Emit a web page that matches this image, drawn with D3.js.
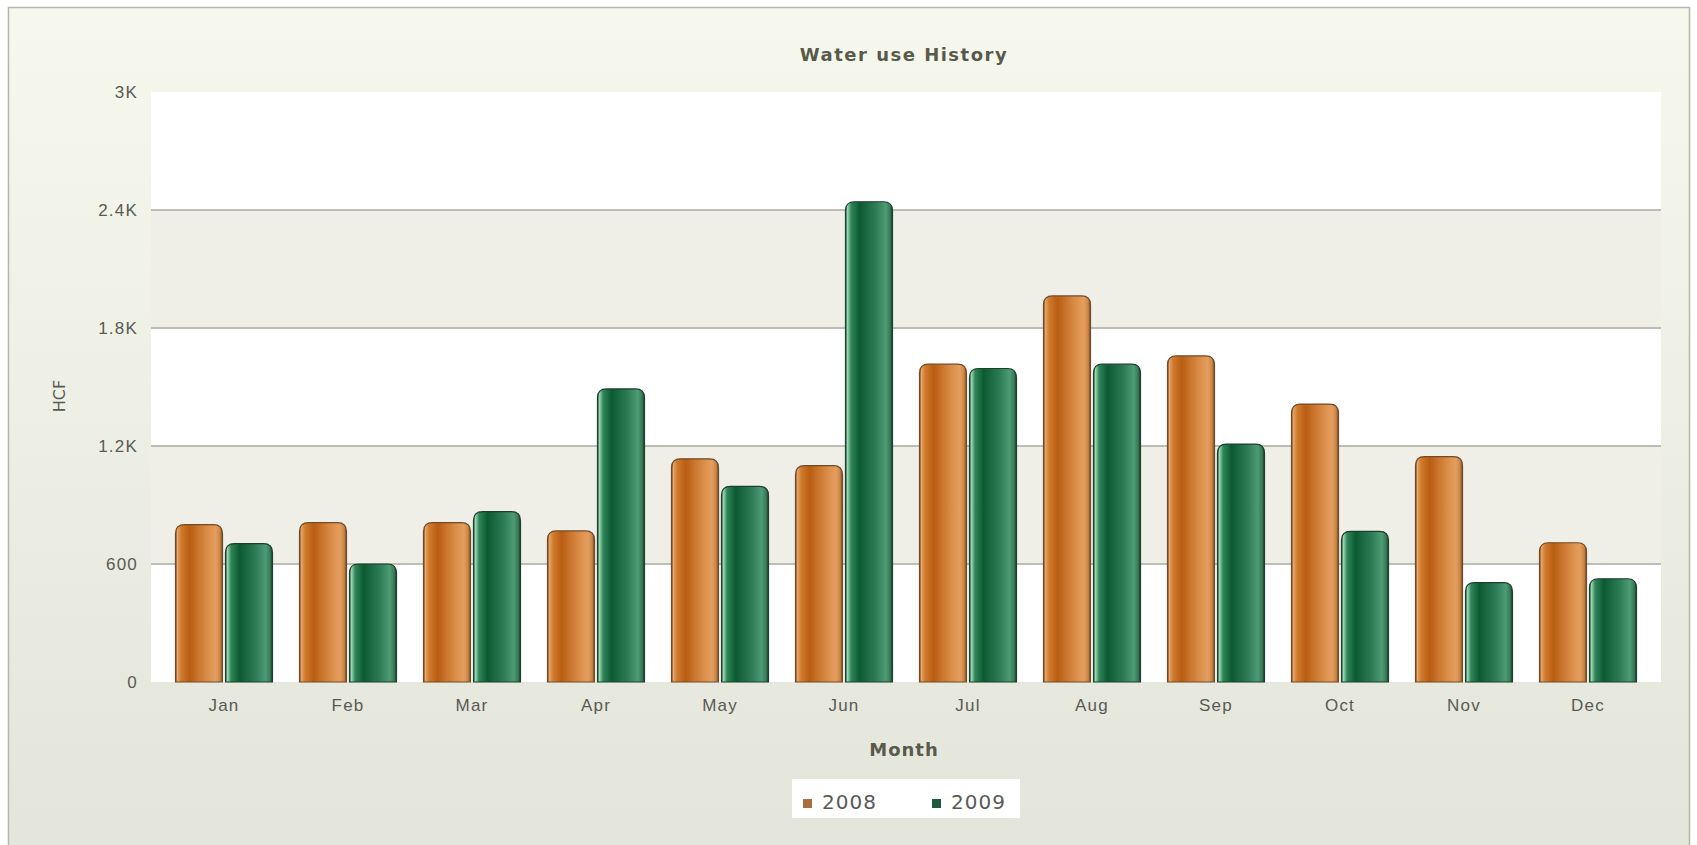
<!DOCTYPE html>
<html>
<head>
<meta charset="utf-8">
<script src="https://cdnjs.cloudflare.com/ajax/libs/d3/7.8.5/d3.min.js"></script>
<style>
  body { margin: 0; background: #ffffff; }
  svg { display: block; font-family: "DejaVu Sans", Verdana, sans-serif; }
</style>
</head>
<body>
<svg id="chart"></svg>
<script>
// chart data
var months = ['Jan', 'Feb', 'Mar', 'Apr', 'May', 'Jun', 'Jul', 'Aug', 'Sep', 'Oct', 'Nov', 'Dec'];
var seriesNames = ['2008', '2009'];
var use2008 = [800, 810, 810, 768, 1135, 1100, 1616, 1963, 1658, 1413, 1146, 708];
var use2009 = [704, 600, 866, 1490, 995, 2442, 1594, 1616, 1210, 766, 505, 525];
var yTicks = [0, 600, 1200, 1800, 2400, 3000];
var yTickLabels = ['0', '600', '1.2K', '1.8K', '2.4K', '3K'];

var W = 1697, H = 845;
// plot area
var plot = {left: 151, right: 1661, top: 92, bottom: 682};

var svg = d3.select('#chart')
    .attr('width', W)
    .attr('height', H);

var defs = svg.append('defs');

// outer background gradient
var bg = defs.append('linearGradient')
    .attr('id', 'bgGrad')
    .attr('x1', 0).attr('y1', 0).attr('x2', 0).attr('y2', 1);
bg.append('stop').attr('offset', 0).attr('stop-color', '#f6f8ee');
bg.append('stop').attr('offset', 1).attr('stop-color', '#e4e5da');

// bar gradients (cylinder look)
var barStops = {
  '2008': [[0, '#7a4a20'], [0.04, '#e6a46a'], [0.12, '#d07a2c'], [0.3, '#b95d12'], [0.65, '#d88a44'], [0.86, '#e59e5e'], [0.95, '#c98447'], [1, '#6e4a28']],
  '2009': [[0, '#244a34'], [0.04, '#9ad8b4'], [0.12, '#2e8558'], [0.3, '#0c5a32'], [0.65, '#2f7d57'], [0.86, '#4d9c76'], [0.95, '#357a58'], [1, '#1c3f2b']]
};
seriesNames.forEach(function(s){
  var g = defs.append('linearGradient')
      .attr('id', 'bar' + s)
      .attr('x1', 0).attr('y1', 0).attr('x2', 1).attr('y2', 0);
  barStops[s].forEach(function(st){
    g.append('stop').attr('offset', st[0]).attr('stop-color', st[1]);
  });
});

svg.append('rect')
    .attr('x', 8.5).attr('y', 7.5)
    .attr('width', W - 16).attr('height', H)
    .attr('fill', 'url(#bgGrad)')
    .attr('stroke', '#b4b5ab')
    .attr('stroke-width', 1.5);

// scales
var yScale = d3.scaleLinear()
    .domain([0, 3000])
    .range([plot.bottom, plot.top]);

// month bands sit a bit right of the plot's left edge
var xScale = d3.scaleBand()
    .domain(months)
    .range([162, 1650])
    .paddingInner(0.218)
    .paddingOuter(0.109);

var xSub = d3.scaleBand()
    .domain(seriesNames)
    .range([0, xScale.bandwidth()])
    .paddingInner(0.06);

var colors = d3.scaleOrdinal()
    .domain(seriesNames)
    .range(['#a86e3c', '#1d5a3b']);

// alternating bands between gridlines
var bands = d3.pairs(yTicks);
svg.append('g')
  .selectAll('rect')
  .data(bands)
  .enter()
  .append('rect')
    .attr('x', plot.left)
    .attr('y', d => yScale(d[1]))
    .attr('width', plot.right - plot.left)
    .attr('height', d => yScale(d[0]) - yScale(d[1]))
    .attr('fill', (d, i) => i % 2 == 1 ? '#efefe8' : '#ffffff');

// gridlines
svg.append('g')
  .selectAll('line')
  .data(yTicks.filter(d => d > 0 && d < 3000))
  .enter()
  .append('line')
    .attr('x1', plot.left)
    .attr('x2', plot.right)
    .attr('y1', d => yScale(d))
    .attr('y2', d => yScale(d))
    .attr('stroke', '#bdbdb5')
    .attr('stroke-width', 2);

// bars with rounded tops
var rows = months.map(function(m, i){
  return {month: m, values: [{key: '2008', v: use2008[i]}, {key: '2009', v: use2009[i]}]};
});

function topRounded(x, y, w, h, r){
  return 'M' + x + ',' + (y + h) +
    'V' + (y + r) +
    'Q' + x + ',' + y + ' ' + (x + r) + ',' + y +
    'H' + (x + w - r) +
    'Q' + (x + w) + ',' + y + ' ' + (x + w) + ',' + (y + r) +
    'V' + (y + h) + 'Z';
}

svg.append('g')
  .selectAll('g')
  .data(rows)
  .enter()
  .append('g')
    .attr('transform', d => 'translate(' + xScale(d.month) + ',0)')
  .selectAll('path')
  .data(d => d.values)
  .enter()
  .append('path')
    .attr('d', function(d){
      var y = yScale(d.v);
      return topRounded(xSub(d.key), y, xSub.bandwidth(), yScale(0) - y, 9);
    })
    .attr('fill', d => 'url(#bar' + d.key + ')')
    .attr('stroke', d => d.key == '2008' ? '#6e4a28' : '#1f3d2c')
    .attr('stroke-width', 1.2);

// y axis
var yAxis = d3.axisLeft(yScale)
    .tickValues(yTicks)
    .tickFormat((d, i) => yTickLabels[i])
    .tickSize(0)
    .tickPadding(13);

svg.append('g')
    .attr('transform', 'translate(' + plot.left + ',0)')
    .call(yAxis)
    .call(g => g.select('.domain').remove())
    .selectAll('text')
      .style('font-size', '17px')
      .style('letter-spacing', '1.2px')
      .attr('fill', '#5a5a55');

// x axis
var xAxis = d3.axisBottom(xScale)
    .tickSize(0)
    .tickPadding(17);

svg.append('g')
    .attr('transform', 'translate(0,' + plot.bottom + ')')
    .call(xAxis)
    .call(g => g.select('.domain').remove())
    .selectAll('text')
      .style('font-size', '17px')
      .style('letter-spacing', '1.2px')
      .attr('fill', '#5a5a55');

// title
svg.append('text')
    .attr('x', 904)
    .attr('y', 61)
    .attr('text-anchor', 'middle')
    .style('font-size', '18px')
    .style('font-weight', 'bold')
    .style('letter-spacing', '1.5px')
    .attr('fill', '#585a4c')
    .text('Water use History');

// axis titles
svg.append('text')
    .attr('x', 904)
    .attr('y', 756)
    .attr('text-anchor', 'middle')
    .style('font-size', '18px')
    .style('font-weight', 'bold')
    .style('letter-spacing', '1px')
    .attr('fill', '#585a4c')
    .text('Month');

svg.append('text')
    .attr('transform', 'translate(65,396) rotate(-90)')
    .attr('text-anchor', 'middle')
    .style('font-size', '16px')
    .attr('fill', '#5a5a55')
    .text('HCF');

// legend
var legend = svg.append('g')
    .attr('transform', 'translate(792,779)');

legend.append('rect')
    .attr('width', 228)
    .attr('height', 39)
    .attr('fill', '#ffffff');

var item = legend.selectAll('g')
  .data(seriesNames)
  .enter()
  .append('g')
    .attr('transform', (d, i) => 'translate(' + (11 + i * 129) + ',0)');

item.append('rect')
    .attr('y', 20)
    .attr('width', 9)
    .attr('height', 9)
    .attr('fill', d => colors(d));

item.append('text')
    .attr('x', 19)
    .attr('y', 30)
    .style('font-size', '20px')
    .style('letter-spacing', '1px')
    .attr('fill', '#5a5a55')
    .text(d => d);
</script>
</body>
</html>
